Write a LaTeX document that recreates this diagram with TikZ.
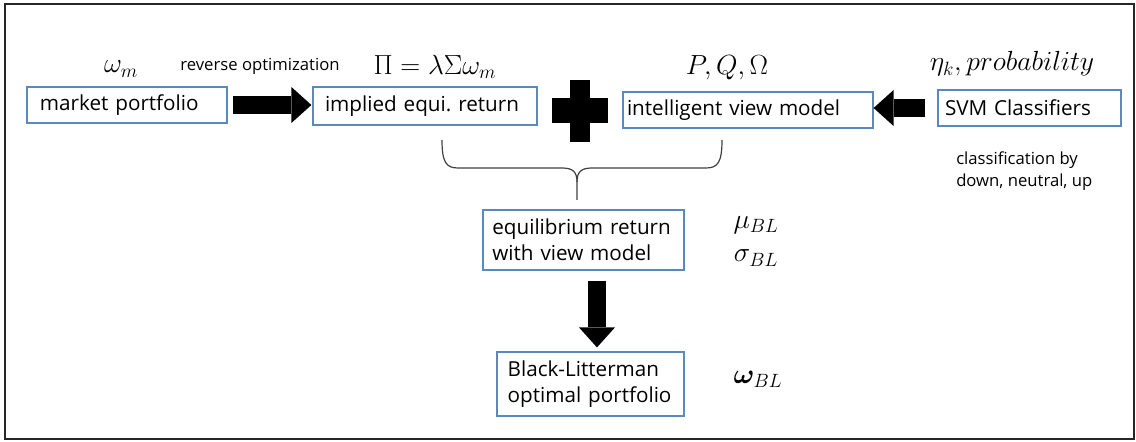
\documentclass[tikz,border=0pt]{standalone}
\usepackage{bm}
\usepackage{fontspec}
\setmainfont{Open Sans}
\usetikzlibrary{arrows.meta}
\definecolor{boxblue}{RGB}{91,137,190}

\begin{document}
\begin{tikzpicture}[x=0.75pt, y=-0.75pt,
  box/.style={draw=boxblue, line width=0.9pt, align=left, inner ysep=0pt,
    font=\fontsize{15.5}{19.5}\selectfont},
  fatarrow/.style={line width=13.5pt,
    -{Triangle[length=15pt, width=27pt, line width=0pt]}},
  mathlabel/.style={inner sep=0pt, font=\fontsize{20}{24}\selectfont},
  smalltext/.style={inner sep=0pt, align=left, font=\fontsize{12.5}{16.5}\selectfont}]

% === Frame ===
\useasboundingbox (0,0) rectangle (1136,442);
\draw[line width=1.1pt, black!85] (5,4) rectangle (1134,439);

% === Top row ===
\node[box, inner xsep=9.75pt, text width=130.5pt, minimum height=27pt]
  (MarketBox) at (127,105) {market portfolio};
\node[box, inner xsep=9pt, text width=150pt, minimum height=28.5pt]
  (ImpliedBox) at (425,106) {implied equi.\ return};
\node[box, inner xsep=3pt, text width=181.5pt, minimum height=27pt]
  (ViewBox) at (748,110) {intelligent view model};
\node[box, inner xsep=5.25pt, text width=126.75pt, minimum height=27pt]
  (SVMBox) at (1029.5,108) {SVM Classifiers};

% === Result boxes ===
\node[box, inner xsep=7pt, text width=136.75pt, minimum height=45pt]
  (EquilBox) at (583.5,240) {equilibrium return\\with view model};
\node[box, inner xsep=8pt, text width=124.25pt, minimum height=48pt]
  (BLBox) at (590.5,384) {Black-Litterman\\optimal portfolio};

% === Labels ===
\node[mathlabel] (OmegaM) at (121,69) {$\omega_m$};
\node[smalltext] (RevOpt) at (260,66) {reverse optimization};
\node[mathlabel] (PiEq) at (435,67) {$\Pi=\lambda\Sigma\omega_m$};
\node[mathlabel] (PQO) at (727,68) {$P,Q,\Omega$};
\node[mathlabel] (EtaProb) at (1012,64) {$\eta_k, probability$};
\node[smalltext, anchor=west] (ClassText) at (956,171) {classification by\\down, neutral, up};
\node[mathlabel] (MuBL) at (756,225) {$\mu_{BL}$};
\node[mathlabel] (SigmaBL) at (756,258) {$\sigma_{BL}$};
\node[mathlabel] (OmegaBL) at (758,379) {$\bm{\omega}_{BL}$};

% === Plus sign ===
\fill (570,80) rectangle (590,142);
\fill (552,98) rectangle (608,123);

% === Brace ===
\draw[line width=0.9pt, black!75] (442,140) .. controls (442,162) and (446,168) .. (458,168)
  -- (562,168) .. controls (573,168) and (577,172) .. (577,182) -- (577,200);
\draw[line width=0.9pt, black!75] (722,140) .. controls (722,162) and (718,168) .. (706,168)
  -- (592,168) .. controls (581,168) and (577,172) .. (577,182);

% === Arrows ===
\draw[fatarrow, shorten <=3.75pt, shorten >=0.75pt]
  (MarketBox.east) -- (MarketBox.east -| ImpliedBox.west);
\draw[fatarrow, shorten <=9pt]
  (SVMBox.west) -- (SVMBox.west -| ViewBox.east);
\coordinate (DownTop) at ([xshift=10.1pt]EquilBox.south);
\draw[fatarrow, shorten <=7.5pt, shorten >=3pt]
  (DownTop) -- (DownTop |- BLBox.north);

\end{tikzpicture}
\end{document}
